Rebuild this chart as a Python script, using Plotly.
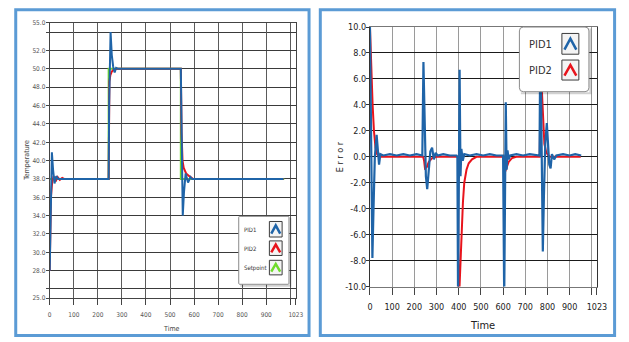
import plotly.graph_objects as go

# ---------------- data ----------------
# Left chart: temperature
setpoint_time = [0, 245, 245, 545, 545, 975]
setpoint_val = [38, 38, 50, 50, 38, 38]

pid1_temp_time = [0, 4, 9, 14, 20, 27, 35, 245, 247, 253, 258, 264, 270, 276, 285,
                  545, 549, 553, 558, 565, 575, 585, 592, 972]
pid1_temp = [28.0, 36.0, 40.9, 39.0, 37.5, 38.3, 38.0, 38.0, 46.0, 54.0, 51.5, 50.2, 49.6, 50.1, 50.0,
             50.0, 42.0, 34.0, 36.5, 38.6, 37.6, 38.2, 38.0, 38.0]

pid2_temp_time = [0, 5, 10, 16, 24, 33, 42, 52, 60, 245, 248, 252, 258, 266, 280,
                  545, 548, 552, 557, 567, 580, 595, 972]
pid2_temp = [28.0, 36.0, 37.6, 38.3, 37.7, 38.2, 37.9, 38.1, 38.0, 38.0, 48.6, 49.3, 49.7, 49.9, 50.0,
             50.0, 43.0, 40.0, 39.2, 38.6, 38.3, 38.0, 38.0]

# Right chart: error
pid1_err_time = [0, 3, 7, 11, 16, 22, 30, 36, 41, 47, 60, 90, 120, 150, 180, 210, 236, 241, 247, 252,
                 258, 264, 272, 280, 288, 296, 305, 330, 360, 390, 394, 397, 401, 404, 408, 412, 418,
                 425, 450, 480, 510, 540, 570, 600, 605, 608, 612, 616, 620, 625, 632, 660, 690, 720,
                 750, 764, 768, 774, 779, 784, 790, 797, 803, 808, 814, 820, 830, 840, 870, 900, 925, 952]
pid1_err = [10, 4, -3, -7.8, -4, 0, 1.7, 0.6, -0.6, 0.2, 0.1, 0.2, 0.1, 0.2, 0.1, 0.2, 0.1, 7.3, 0.5, -1.5,
            -2.5, -1.0, 0.4, 0.7, -0.2, 0.3, 0.1, 0.2, 0.1, 0.1, 0.0, -11, -4, 6.7, -1.5, 0.6, -0.3,
            0.2, 0.1, 0.2, 0.1, 0.2, 0.1, 0.1, -11, -3, 4.2, -1.0, 0.5, -0.2, 0.1, 0.2, 0.1, 0.2,
            0.1, 0.1, 9.5, -1, -7.3, -3, 1.0, 2.6, 1.2, -0.6, -0.9, 0.2, -0.2, 0.1, 0.2, 0.1, 0.2, 0.1]

pid2_err_time = [0, 4, 8, 12, 18, 25, 32, 40, 240, 244, 248, 256, 265, 280, 300, 397, 399, 403, 408, 413,
                 419, 425, 435, 445, 460, 480, 604, 608, 616, 625, 640, 660, 765, 770, 775, 780, 786,
                 795, 810, 950]
pid2_err = [10, 7.5, 5.5, 4.0, 2.0, 0.7, 0.2, 0.0, 0.0, -0.3, -0.9, -0.8, -0.4, -0.1, 0.0, 0.0, -12, -10,
            -7.5, -6, -3.5, -2.0, -1.0, -0.5, -0.2, 0.0, 0.0, -1.2, -0.8, -0.4, -0.1, 0.0, 0.0, 8.0,
            5.0, 2.5, 1.0, 0.3, 0.0, 0.0]

time_ticks = [0, 100, 200, 300, 400, 500, 600, 700, 800, 900, 1023]
temp_ticks = [25, 28, 30, 32, 34, 36, 38, 40, 42, 44, 46, 48, 50, 52, 55]
err_ticks = [-10, -8, -6, -4, -2, 0, 2, 4, 6, 8, 10]

# ---------------- colours ----------------
BLUE = "#1f64a8"
RED = "#e8141c"
GREEN = "#6fdc2c"
FRAME = "#5b9bd5"

W, H = 629, 342


def px(x):
    return x / W


def py(y):
    return 1 - y / H


NARROW = "Noto Sans Condensed, DejaVu Sans Condensed, Liberation Sans Narrow, Roboto, sans-serif"

fig = go.Figure()

fig.add_trace(go.Scatter(x=setpoint_time, y=setpoint_val, mode="lines",
                         line=dict(color=GREEN, width=2), xaxis="x", yaxis="y"))
fig.add_trace(go.Scatter(x=pid2_temp_time, y=pid2_temp, mode="lines",
                         line=dict(color=RED, width=2), xaxis="x", yaxis="y"))
fig.add_trace(go.Scatter(x=pid1_temp_time, y=pid1_temp, mode="lines",
                         line=dict(color=BLUE, width=2), xaxis="x", yaxis="y"))

fig.add_trace(go.Scatter(x=pid2_err_time, y=pid2_err, mode="lines",
                         line=dict(color=RED, width=2), xaxis="x2", yaxis="y2"))
fig.add_trace(go.Scatter(x=pid1_err_time, y=pid1_err, mode="lines",
                         line=dict(color=BLUE, width=2.2), xaxis="x2", yaxis="y2"))

tickfont_l = dict(family=NARROW, size=6.5, color="#555")
tickfont_r = dict(family=NARROW, size=9, color="#222")

fig.update_layout(
    width=W, height=H, margin=dict(l=0, r=0, t=0, b=0),
    paper_bgcolor="white", plot_bgcolor="white", showlegend=False,
    xaxis=dict(domain=[px(47.7), px(299)], range=[0, 1023], tickmode="array",
               tickvals=time_ticks, ticktext=[str(t) for t in time_ticks],
               showgrid=True, gridcolor="#5a5a5a", gridwidth=1, zeroline=False,
               showline=True, linecolor="#444", mirror=True, ticks="outside", ticklen=6,
               ticklabelstandoff=4,
               tickcolor="#444", tickfont=tickfont_l,
               minor=dict(tickmode="array", tickvals=[1000], showgrid=True, gridcolor="#5a5a5a",
                          ticks="outside", ticklen=6, tickcolor="#444")),
    yaxis=dict(domain=[py(302), py(18.5)], range=[25, 55], tickmode="array",
               tickvals=temp_ticks, ticktext=["%.1f" % v for v in temp_ticks],
               showgrid=True, gridcolor="#3a3a3a", gridwidth=1, zeroline=False,
               showline=True, linecolor="#444", mirror=True, ticks="outside", ticklen=3,
               ticklabelstandoff=-1,
               tickcolor="#444", tickfont=tickfont_l,
               minor=dict(tickmode="array", tickvals=[26, 54], showgrid=True, gridcolor="#3a3a3a",
                          ticks="outside", ticklen=3, tickcolor="#444")),
    xaxis2=dict(domain=[px(374.7), px(606.5)], range=[0, 1023], tickmode="array",
                tickvals=time_ticks, ticktext=[str(t) for t in time_ticks], anchor="y2",
                showgrid=True, gridcolor="#9a9a9a", gridwidth=1, zeroline=False,
                showline=True, linecolor="#777", mirror=True, ticks="outside", ticklen=7,
                ticklabelstandoff=5,
                tickcolor="#444", tickfont=tickfont_r,
                minor=dict(tickmode="array", tickvals=[1000], showgrid=True, gridcolor="#9a9a9a",
                           ticks="outside", ticklen=7, tickcolor="#444")),
    yaxis2=dict(domain=[py(290), py(22.7)], range=[-10, 10], tickmode="array", anchor="x2",
                tickvals=err_ticks, ticktext=["%.1f" % v for v in err_ticks],
                showgrid=True, gridcolor="#1a1a1a", gridwidth=1, zeroline=False,
                showline=True, linecolor="#333", mirror=True, ticks="outside", ticklen=3,
                ticklabelstandoff=-2,
                tickcolor="#333", tickfont=tickfont_r),
)

shapes = []
# panel frames
shapes.append(dict(type="rect", xref="paper", yref="paper", x0=px(13), x1=px(312.5),
                   y0=py(340.5), y1=py(5), line=dict(color=FRAME, width=3), fillcolor="rgba(0,0,0,0)"))
shapes.append(dict(type="rect", xref="paper", yref="paper", x0=px(324), x1=px(624.5),
                   y0=py(340.5), y1=py(5), line=dict(color=FRAME, width=3), fillcolor="rgba(0,0,0,0)"))

annotations = []


def legend_box(x0, y0, x1, y1, radius, entries, fsize, text_x, icon_x0, icon_x1):
    r = radius
    path = (f"M {px(x0 + r)},{py(y0)} L {px(x1 - r)},{py(y0)} Q {px(x1)},{py(y0)} {px(x1)},{py(y0 + r)} "
            f"L {px(x1)},{py(y1 - r)} Q {px(x1)},{py(y1)} {px(x1 - r)},{py(y1)} "
            f"L {px(x0 + r)},{py(y1)} Q {px(x0)},{py(y1)} {px(x0)},{py(y1 - r)} "
            f"L {px(x0)},{py(y0 + r)} Q {px(x0)},{py(y0)} {px(x0 + r)},{py(y0)} Z")
    spath = (f"M {px(x0 + 1.5)},{py(y1 + 1.5)} L {px(x1 + 1.5)},{py(y1 + 1.5)} L {px(x1 + 1.5)},{py(y0 + 1.5)}")
    shapes.append(dict(type="path", xref="paper", yref="paper", path=spath,
                       line=dict(color="rgba(0,0,0,0.18)", width=2)))
    shapes.append(dict(type="path", xref="paper", yref="paper", path=path,
                       line=dict(color="#8a8a8a", width=1), fillcolor="white"))
    for label, color, iy0, iy1 in entries:
        shapes.append(dict(type="rect", xref="paper", yref="paper", x0=px(icon_x0), x1=px(icon_x1),
                           y0=py(iy1), y1=py(iy0), line=dict(color="#3c3c3c", width=1),
                           fillcolor="#f4f4f4"))
        w = icon_x1 - icon_x0
        h = iy1 - iy0
        cp = (f"M {px(icon_x0 + 0.15 * w)},{py(iy0 + 0.78 * h)} L {px(icon_x0 + 0.5 * w)},{py(iy0 + 0.25 * h)} "
              f"L {px(icon_x0 + 0.85 * w)},{py(iy0 + 0.78 * h)}")
        shapes.append(dict(type="path", xref="paper", yref="paper", path=cp,
                           line=dict(color=color, width=2.5)))
        annotations.append(dict(xref="paper", yref="paper", x=px(text_x), y=py((iy0 + iy1) / 2 + 0.5),
                                text=label, showarrow=False, xanchor="left", yanchor="middle",
                                font=dict(family=NARROW, size=fsize, color="#333")))


legend_box(240.7, 217.7, 292, 287.7, 1,
           [("PID1", BLUE, 223, 239), ("PID2", RED, 243, 258), ("Setpoint", GREEN, 263, 278)],
           6, 244, 272, 285)
legend_box(527.3, 22.7, 598.3, 89.3, 4,
           [("PID1", BLUE, 29.3, 50.7), ("PID2", RED, 56.7, 77.3)],
           11, 535, 570.7, 588)

# axis titles
annotations.append(dict(xref="paper", yref="paper", x=px(25), y=py(160), text="Temperature",
                        textangle=-90, showarrow=False, xanchor="center", yanchor="middle",
                        font=dict(family=NARROW, size=7, color="#444")))
annotations.append(dict(xref="paper", yref="paper", x=px(172.5), y=py(334), text="Time",
                        showarrow=False, xanchor="center", yanchor="middle",
                        font=dict(family=NARROW, size=7, color="#444")))
annotations.append(dict(xref="paper", yref="paper", x=px(345), y=py(156), text="E r r o r",
                        textangle=-90, showarrow=False, xanchor="center", yanchor="middle",
                        font=dict(family=NARROW, size=9, color="#222")))
annotations.append(dict(xref="paper", yref="paper", x=px(490), y=py(330), text="Time",
                        showarrow=False, xanchor="center", yanchor="middle",
                        font=dict(family=NARROW, size=11, color="#222")))

fig.update_layout(shapes=shapes, annotations=annotations)

fig.write_html("out.html")
